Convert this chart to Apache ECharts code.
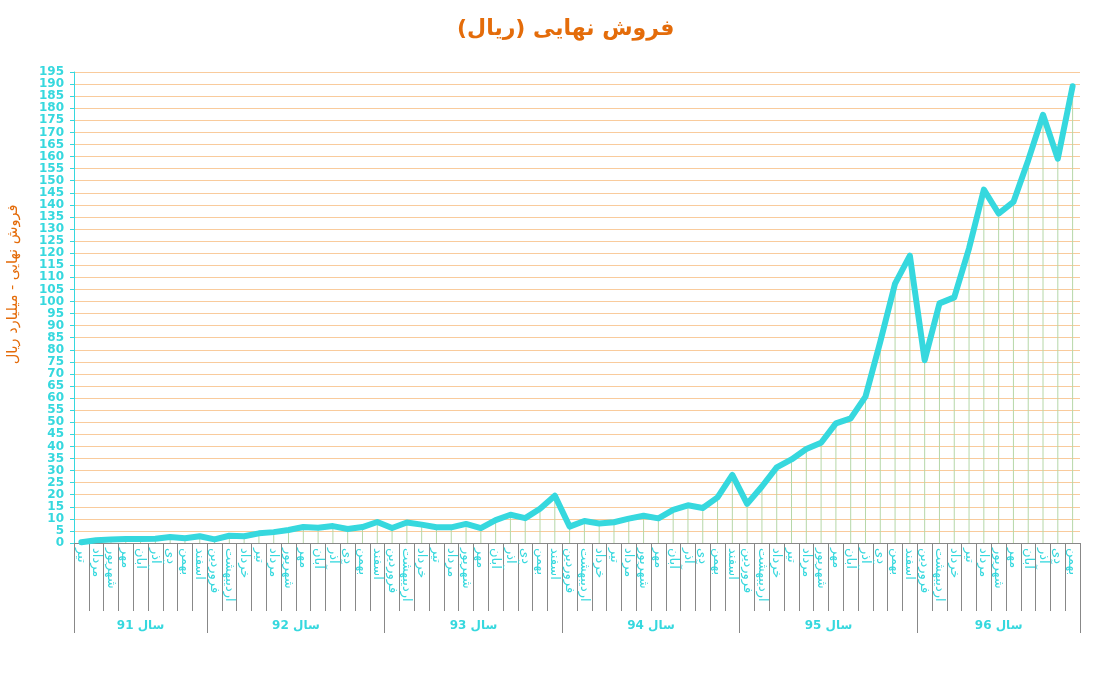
<!DOCTYPE html>
<html dir="rtl">
<head>
<meta charset="utf-8">
<script src="https://cdn.jsdelivr.net/npm/echarts@6/dist/echarts.min.js"></script>
<style>html,body{margin:0;padding:0;background:#fff}#c{width:1110px;height:679px;direction:rtl}</style>
</head>
<body>
<div id="c"></div>
<script>
// Data
const titleText = 'فروش نهایی (ریال)';
const yAxisName = 'فروش نهایی - میلیارد ریال';
const yearLabels = ['سال 91', 'سال 92', 'سال 93', 'سال 94', 'سال 95', 'سال 96'];
const monthsPerYear = [9, 12, 12, 12, 12, 11];
const months = [
  'تیر','مرداد','شهریور','مهر','آبان','آذر','دی','بهمن','اسفند',
  'فروردین','اردیبهشت','خرداد','تیر','مرداد','شهریور','مهر','آبان','آذر','دی','بهمن','اسفند',
  'فروردین','اردیبهشت','خرداد','تیر','مرداد','شهریور','مهر','آبان','آذر','دی','بهمن','اسفند',
  'فروردین','اردیبهشت','خرداد','تیر','مرداد','شهریور','مهر','آبان','آذر','دی','بهمن','اسفند',
  'فروردین','اردیبهشت','خرداد','تیر','مرداد','شهریور','مهر','آبان','آذر','دی','بهمن','اسفند',
  'فروردین','اردیبهشت','خرداد','تیر','مرداد','شهریور','مهر','آبان','آذر','دی','بهمن'
];
const sales = [
  0.3, 1.1, 1.4, 1.7, 1.7, 1.8, 2.5, 2.0, 2.8,
  1.5, 3.0, 2.8, 4.0, 4.5, 5.4, 6.6, 6.3, 7.0, 5.8, 6.6, 8.7,
  6.2, 8.5, 7.6, 6.5, 6.5, 7.9, 6.2, 9.5, 11.7, 10.3, 14.2, 19.6,
  6.8, 9.1, 8.1, 8.6, 10.1, 11.3, 10.2, 13.7, 15.6, 14.5, 18.9, 28.2,
  16.2, 23.4, 31.3, 34.6, 38.9, 41.5, 49.5, 51.6, 60.6, 83.3, 107.4, 119.0,
  75.7, 99.2, 101.7, 122.0, 146.3, 136.4, 141.2, 158.5, 177.3, 159.1, 189.1
];
const yTicks = { min: 0, max: 195, interval: 5 };

// derived helpers
const rtl = s => '\u202B' + s + '\u202C';
const yearStarts = [];
const yearMids = [];
let acc = 0;
monthsPerYear.forEach(n => { yearStarts.push(acc); yearMids.push(acc + n / 2); acc += n; });

const cyan = '#36d8de';
const orange = '#e46c0a';
const font = 'DejaVu Sans';

const chart = echarts.init(document.getElementById('c'));
chart.setOption({
  animation: false,
  backgroundColor: '#fff',
  title: {
    text: rtl(titleText),
    left: 452,
    top: 13,
    textStyle: { color: orange, fontSize: 22, fontWeight: 'bold', fontFamily: font }
  },
  grid: { left: 74, right: 30, top: 72, bottom: 136, containLabel: false, outerBoundsMode: 'none' },
  xAxis: [
    {
      type: 'category',
      data: months,
      boundaryGap: true,
      axisLine: { lineStyle: { color: '#888', width: 1 } },
      axisTick: { show: true, length: 68, interval: 0, lineStyle: { color: '#888' } },
      axisLabel: {
        interval: 0, rotate: -90, color: cyan, fontSize: 13, fontFamily: font, margin: 5,
        formatter: v => rtl(v)
      },
      splitLine: { show: false }
    },
    {
      type: 'category',
      data: months,
      position: 'bottom',
      boundaryGap: true,
      axisLine: { show: false },
      axisTick: {
        show: true, length: 90,
        interval: (idx) => yearStarts.indexOf(idx) >= 0,
        lineStyle: { color: '#888' }
      },
      axisLabel: { show: false },
      splitLine: { show: false }
    },
    {
      type: 'value',
      position: 'bottom',
      min: 0, max: months.length, interval: 0.5,
      axisLine: { show: false },
      axisTick: { show: false },
      splitLine: { show: false },
      axisLabel: {
        margin: 77, color: cyan, fontSize: 12, fontWeight: 'bold', fontFamily: font,
        showMinLabel: true, showMaxLabel: true,
        formatter: (v) => { const k = yearMids.indexOf(v); return k >= 0 ? rtl(yearLabels[k]) : ''; }
      }
    }
  ],
  yAxis: {
    type: 'value',
    min: yTicks.min, max: yTicks.max, interval: yTicks.interval,
    name: rtl(yAxisName),
    nameLocation: 'middle',
    nameGap: 53,
    nameTextStyle: { color: orange, fontSize: 14.5, fontFamily: font, padding: [0, 0, 0, 46] },
    axisLine: { show: true, lineStyle: { color: cyan, width: 1 } },
    axisTick: { show: true, length: 4, lineStyle: { color: cyan } },
    axisLabel: { color: cyan, fontSize: 12, fontWeight: 'bold', fontFamily: font, margin: 10 },
    splitLine: { show: true, lineStyle: { color: '#f9cb9c', width: 1 } }
  },
  series: [
    {
      type: 'bar',
      data: sales,
      barWidth: 1,
      itemStyle: { color: '#b6d7a8' },
      silent: true,
      z: 1
    },
    {
      type: 'line',
      data: sales,
      symbol: 'none',
      lineStyle: { color: cyan, width: 6, cap: 'round', join: 'round' },
      z: 3
    }
  ]
});
</script>
</body>
</html>
